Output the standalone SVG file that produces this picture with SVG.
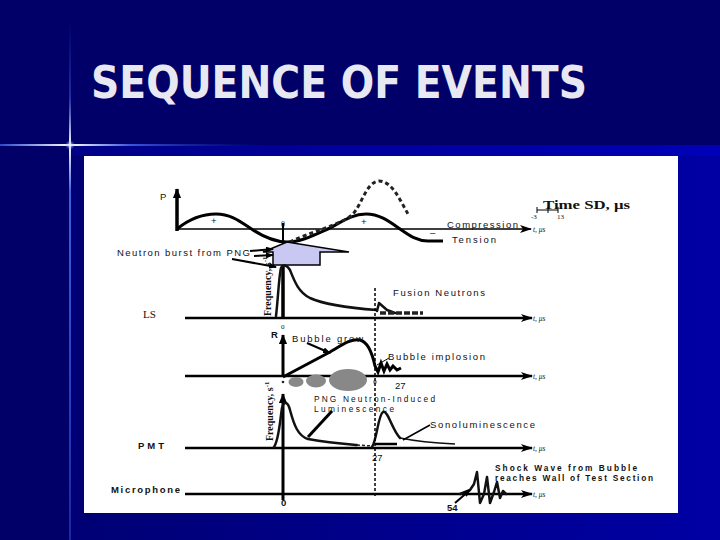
<svg xmlns="http://www.w3.org/2000/svg" width="720" height="540" viewBox="0 0 720 540">
<defs>
<linearGradient id="lowbg" x1="0" y1="0" x2="1" y2="0">
<stop offset="0" stop-color="#000074"/><stop offset="1" stop-color="#0000a4"/>
</linearGradient>
<linearGradient id="band" x1="0" y1="0" x2="1" y2="0">
<stop offset="0" stop-color="#000088"/><stop offset="1" stop-color="#0000b8"/>
</linearGradient>
<linearGradient id="vglow" x1="0" y1="0" x2="0" y2="1">
<stop offset="0" stop-color="#2040c0" stop-opacity="0"/>
<stop offset="0.15" stop-color="#3050d0" stop-opacity="0.6"/>
<stop offset="0.24" stop-color="#ffffff"/>
<stop offset="0.33" stop-color="#4060e0"/>
<stop offset="1" stop-color="#1828a8"/>
</linearGradient>
<linearGradient id="hglow" x1="0" y1="0" x2="1" y2="0">
<stop offset="0" stop-color="#2848c8"/>
<stop offset="0.27" stop-color="#ffffff"/>
<stop offset="0.5" stop-color="#3858d8"/>
<stop offset="1" stop-color="#1020a0" stop-opacity="0"/>
</linearGradient>
<radialGradient id="spark">
<stop offset="0" stop-color="#ffffff"/><stop offset="1" stop-color="#6080ff" stop-opacity="0"/>
</radialGradient>
<marker id="ah" viewBox="0 0 12 8" refX="11" refY="4" markerWidth="12" markerHeight="8" markerUnits="userSpaceOnUse" orient="auto">
<path d="M0,0 L12,4 L0,8 L3,4 z" fill="#000"/>
</marker>
<marker id="av" viewBox="0 0 12 10" refX="11" refY="5" markerWidth="10" markerHeight="12" markerUnits="userSpaceOnUse" orient="auto">
<path d="M0,0 L12,5 L0,10 z" fill="#000"/>
</marker>
<marker id="sa" viewBox="0 0 8 6" refX="7" refY="3" markerWidth="8" markerHeight="6" markerUnits="userSpaceOnUse" orient="auto">
<path d="M0,0 L8,3 L0,6 z" fill="#000"/>
</marker>
</defs>
<style>
.lbl{font-family:"Liberation Sans",Arial,sans-serif;font-size:9.5px;fill:#111}
.sm{font-size:8.3px}
.b{font-weight:bold}
.ser{font-family:"Liberation Serif","Times New Roman",serif;fill:#111}
.tu{font-family:"Liberation Serif","Times New Roman",serif;font-style:italic;font-size:7.5px;fill:#222}
.thk{fill:none;stroke:#000;stroke-width:3}
.crv{fill:none;stroke:#111;stroke-width:2.5;stroke-linecap:round;stroke-linejoin:round}
.axis{stroke:#000;stroke-width:2.5;marker-end:url(#ah)}
.ptr{stroke:#000;stroke-width:2;fill:none;marker-end:url(#sa)}
</style>

<!-- background -->
<rect width="720" height="540" fill="#000068"/>
<rect x="70" y="145" width="650" height="395" fill="url(#lowbg)"/>
<rect x="70" y="145" width="650" height="11" fill="url(#band)"/>
<rect x="69" y="20" width="2" height="520" fill="url(#vglow)"/>
<rect x="0" y="144" width="260" height="2" fill="url(#hglow)"/>
<circle cx="70" cy="145" r="5" fill="url(#spark)"/>

<text x="91" y="98" font-family="'DejaVu Sans',Verdana,sans-serif" font-weight="bold" font-size="44" fill="#e8e8f2" textLength="496" lengthAdjust="spacingAndGlyphs">SEQUENCE OF EVENTS</text>

<rect x="84" y="156" width="594" height="357" fill="#ffffff"/>

<!-- pressure plot -->
<g id="pressure-plot">
<line x1="177" y1="231" x2="177" y2="189" stroke="#000" stroke-width="3.5" marker-end="url(#av)"/>
<line x1="177" y1="229" x2="531" y2="229" stroke="#000" stroke-width="1.3" marker-end="url(#ah)"/>
<path class="thk" stroke-width="3.5" d="M177,229 C188,220 202,214 216,214 C232,214 242,223 253,230 C264,237 275,242 287,242 C302,242 316,234 330,228 C343,221 353,214 366,214 C380,214 390,222 400,229 C410,236 417,241 428,241 L443,241"/>
<path fill="none" stroke="#222" stroke-width="3" stroke-dasharray="4 3" d="M290,242 C310,232 340,225 352,215 C362,205 366,182 379,181 C392,181 400,200 408,214"/>
<line x1="283" y1="223" x2="283" y2="252" stroke="#000" stroke-width="2"/>
<text class="lbl" x="160" y="200">P</text>
<text class="ser" x="281" y="227" font-size="8">0</text>
<text class="lbl" x="211" y="224" font-size="11">+</text>
<text class="lbl" x="361" y="225" font-size="11">+</text>
<text class="lbl" x="430" y="236" font-size="11">–</text>
<text class="lbl" x="447" y="228" textLength="71">Compression</text>
<text class="lbl" x="452" y="243" textLength="44">Tension</text>
<text class="tu" x="533" y="232">t, μs</text>
<text class="ser b" x="543" y="209" font-size="13" textLength="87" lengthAdjust="spacingAndGlyphs">Time SD, μs</text>
<g stroke="#000" stroke-width="1">
<line x1="537" y1="210" x2="558" y2="210"/>
<line x1="537" y1="207" x2="537" y2="213"/>
<line x1="548" y1="207" x2="548" y2="213"/>
<line x1="558" y1="207" x2="558" y2="213"/>
</g>
<text class="ser" x="531" y="219" font-size="7">-3</text>
<text class="ser" x="557" y="219" font-size="7">13</text>
</g>

<!-- neutron burst -->
<g id="png-source">
<polygon points="263,252 287,242 349,252 320,252 320,265 273,265 273,252" fill="#c8c8f2" stroke="#000" stroke-width="1.5" stroke-linejoin="miter"/>
<text class="lbl" x="117" y="256" textLength="133">Neutron burst from PNG</text>
</g>

<!-- LS plot -->
<g id="ls-plot">
<line x1="283" y1="265" x2="283" y2="318" stroke="#000" stroke-width="3.5"/>
<line class="axis" x1="185" y1="318" x2="532" y2="318"/>
<path class="crv" d="M276,316 C278,300 279,275 281,268 C283,264 287,265 290,270 C294,280 298,292 310,298 C325,305 350,308 377,310"/>
<path class="crv" stroke-width="2" d="M377,311 L379,303 L387,310 L395,313"/>
<line x1="380" y1="313" x2="423" y2="313" stroke="#222" stroke-width="3.5" stroke-dasharray="6 2"/>
<text class="ser b" font-size="10" transform="translate(271,316) rotate(-90)"><tspan x="0" y="0">Frequency, s</tspan><tspan font-size="7" dy="-4">-1</tspan></text>
<text class="ser" x="143" y="318" font-size="11">LS</text>
<text class="ser" x="281" y="329" font-size="7">0</text>
<text class="lbl" x="393" y="296" textLength="92">Fusion Neutrons</text>
<text class="tu" x="533" y="321">t, μs</text>
</g>

<!-- bubble radius plot -->
<g id="bubble-plot">
<line x1="283" y1="377" x2="283" y2="335" stroke="#000" stroke-width="3" marker-end="url(#av)"/>
<line class="axis" x1="185" y1="376" x2="532" y2="376"/>
<path class="thk" d="M283,377 L330,352 C342,345 352,338 360,340 C368,342 372,352 375,366 L378,372 L381,363 L384,371 L387,364 L390,370 L393,366 L397,370 L401,368"/>
<ellipse cx="296" cy="382" rx="7.5" ry="5" fill="#888"/>
<ellipse cx="316" cy="381" rx="10" ry="6.5" fill="#888"/>
<ellipse cx="348" cy="380" rx="19" ry="11" fill="#888"/>
<circle cx="375" cy="382" r="2" fill="#888"/>
<circle cx="283" cy="382" r="1.3" fill="#224"/>
<text class="lbl b" x="271" y="338" font-size="8.5">R</text>
<text class="lbl" x="292" y="342" textLength="71">Bubble grow</text>
<text class="lbl" x="388" y="360" textLength="97">Bubble implosion</text>
<text class="lbl" x="395" y="389" font-size="7.5">27</text>
<text class="tu" x="533" y="379">t, μs</text>
</g>

<!-- PMT plot -->
<g id="pmt-plot">
<line x1="283" y1="500" x2="283" y2="394" stroke="#000" stroke-width="3" marker-end="url(#av)"/>
<line class="axis" x1="185" y1="448" x2="532" y2="448"/>
<path class="crv" d="M274,447 C279,440 280,420 282,408 C284,400 288,402 290,410 C294,425 298,436 308,439 C330,443 345,444 357,445"/>
<line x1="357" y1="445" x2="372" y2="446" stroke="#222" stroke-width="1.5" stroke-dasharray="3 2"/>
<path class="crv" d="M372,447 C377,440 378,415 383,412 C388,410 392,430 400,438"/>
<path fill="none" stroke="#111" stroke-width="1.5" d="M400,438 C415,441 435,443 455,444"/>
<line x1="375" y1="444" x2="397" y2="444" stroke="#000" stroke-width="2.5"/>
<text class="ser b" font-size="10" transform="translate(273,441) rotate(-90)"><tspan x="0" y="0">Frequency, s</tspan><tspan font-size="7" dy="-4">-1</tspan></text>
<text class="lbl b" x="138" y="449" textLength="26">PMT</text>
<text class="lbl sm" x="314" y="402" textLength="121">PNG Neutron-Induced</text>
<text class="lbl sm" x="314" y="411.5" textLength="80">Luminescence</text>
<text class="lbl" x="430" y="428" font-size="8.5" textLength="105">Sonoluminescence</text>
<text class="lbl" x="372" y="461" font-size="7.5">27</text>
<text class="tu" x="533" y="451">t, μs</text>
</g>

<!-- microphone plot -->
<g id="microphone-plot">
<line class="axis" x1="185" y1="494" x2="532" y2="494"/>
<path class="crv" stroke-width="2.5" d="M460,494 L470,490 L474,484 L477,472 L480,503 L484,494 L487,477 L490,503 L494,492 L497,482 L500,498 L503,491 L506,494"/>
<text class="lbl b" x="111" y="493" textLength="69">Microphone</text>
<text class="lbl b" x="281" y="506" font-size="7.5">0</text>
<text class="lbl b" x="447" y="511" font-size="8">54</text>
<text class="lbl b sm" x="495" y="471" textLength="142">Shock Wave from Bubble</text>
<text class="lbl b sm" x="495" y="480.5" textLength="158">reaches Wall of Test Section</text>
<text class="tu" x="533" y="497">t, μs</text>
</g>

<!-- dashed time marker -->
<line x1="375" y1="288" x2="375" y2="498" stroke="#000" stroke-width="1.5" stroke-dasharray="3 2"/>

<!-- connectors -->
<g id="connectors">
<line class="ptr" x1="250" y1="251" x2="273" y2="249"/>
<line class="ptr" x1="254" y1="256" x2="273" y2="255"/>
<line class="ptr" x1="232" y1="259" x2="276" y2="267"/>
<line class="ptr" x1="307" y1="343" x2="330" y2="353"/>
<line x1="389" y1="358" x2="377" y2="365" stroke="#000" stroke-width="1"/>
<line x1="332" y1="411" x2="308" y2="437" stroke="#000" stroke-width="3"/>
<line x1="430" y1="425" x2="403" y2="440" stroke="#000" stroke-width="1.5"/>
<line class="ptr" x1="455" y1="503" x2="470" y2="490"/>
</g>
</svg>
